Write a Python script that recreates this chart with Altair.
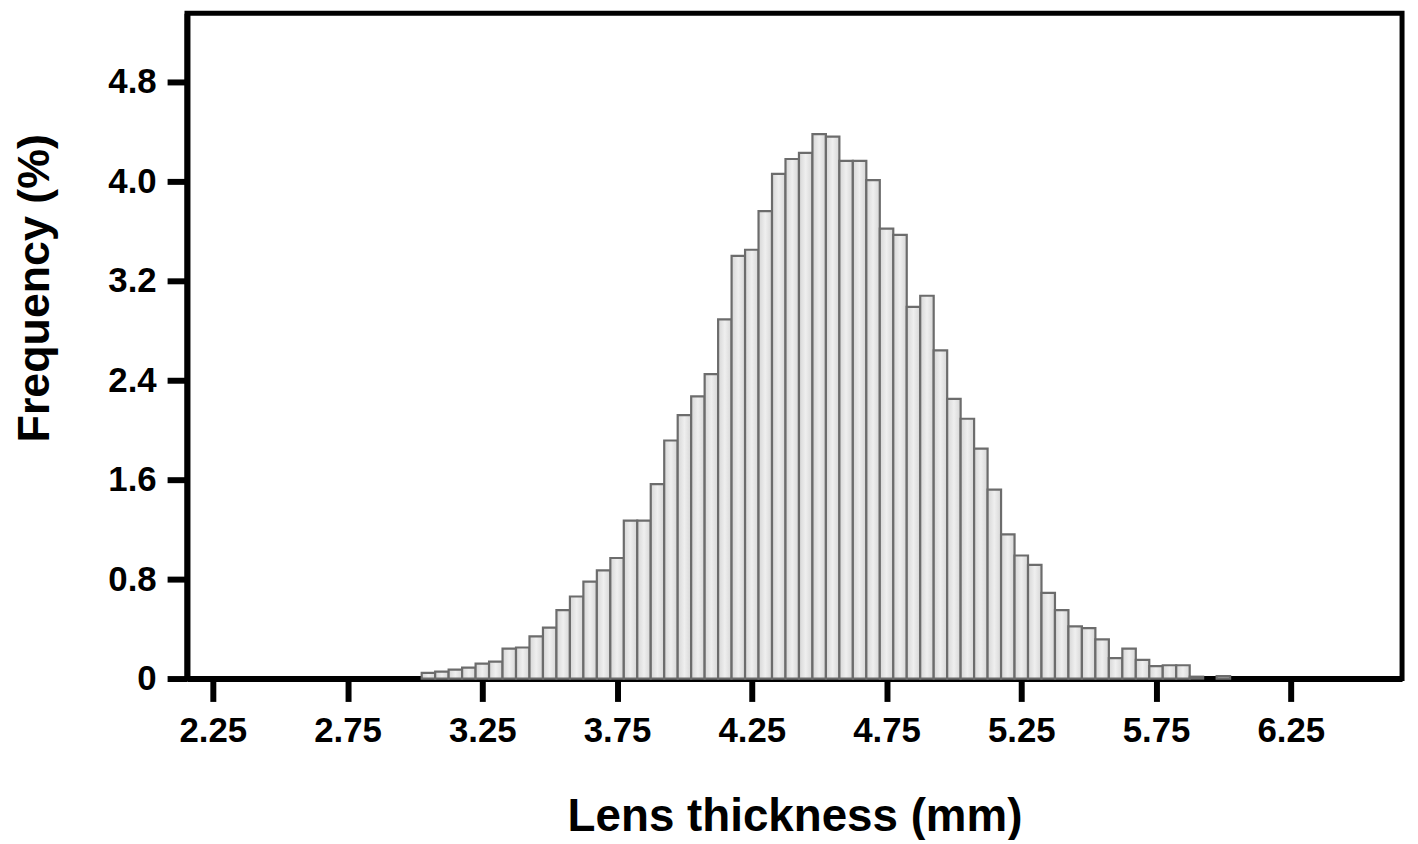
import altair as alt
import pandas as pd

# Bin centres (mm) and frequencies (%)
centers = [3.05, 3.10, 3.15, 3.20, 3.25, 3.30, 3.35, 3.40, 3.45, 3.50,
           3.55, 3.60, 3.65, 3.70, 3.75, 3.80, 3.85, 3.90, 3.95, 4.00,
           4.05, 4.10, 4.15, 4.20, 4.25, 4.30, 4.35, 4.40, 4.45, 4.50,
           4.55, 4.60, 4.65, 4.70, 4.75, 4.80, 4.85, 4.90, 4.95, 5.00,
           5.05, 5.10, 5.15, 5.20, 5.25, 5.30, 5.35, 5.40, 5.45, 5.50,
           5.55, 5.60, 5.65, 5.70, 5.75, 5.80, 5.85, 5.90, 6.00]
freqs = [0.046, 0.056, 0.072, 0.088, 0.12, 0.136, 0.24, 0.25, 0.34, 0.41,
         0.55, 0.66, 0.78, 0.87, 0.97, 1.27, 1.27, 1.565, 1.915, 2.12,
         2.27, 2.45, 2.89, 3.40, 3.45, 3.76, 4.06, 4.18, 4.23, 4.38,
         4.36, 4.165, 4.165, 4.01, 3.62, 3.57, 2.99, 3.08, 2.64, 2.25,
         2.09, 1.85, 1.52, 1.16, 0.99, 0.915, 0.69, 0.55, 0.42, 0.405,
         0.315, 0.165, 0.24, 0.15, 0.10, 0.107, 0.107, 0.015, 0.02]
bin_width = 0.05

x_ticks = [2.25, 2.75, 3.25, 3.75, 4.25, 4.75, 5.25, 5.75, 6.25]
y_ticks = [0, 0.8, 1.6, 2.4, 3.2, 4.0, 4.8]

df = pd.DataFrame({"center": centers, "freq": freqs})

FONT = "Liberation Sans"

fill = alt.LinearGradient(
    gradient="linear", x1=0, y1=0, x2=1, y2=0,
    stops=[alt.GradientStop(offset=0, color="#d6d6d6"),
           alt.GradientStop(offset=0.5, color="#efefef"),
           alt.GradientStop(offset=1, color="#d6d6d6")],
)

bars = alt.Chart(df).transform_calculate(
    lo=f"datum.center - {bin_width / 2}",
    hi=f"datum.center + {bin_width / 2}",
).mark_rect(fill=fill, stroke="#6c6c6c", strokeWidth=2.2).encode(
    x=alt.X("lo:Q",
            scale=alt.Scale(domain=[2.154, 6.663], nice=False, zero=False),
            axis=alt.Axis(values=x_ticks, format=".2f",
                          title="Lens thickness (mm)",
                          titleFontSize=46,
                          titleY=153, titleBaseline="alphabetic",
                          labelPadding=12, tickSize=23)),
    x2="hi:Q",
    y=alt.Y("freq:Q",
            scale=alt.Scale(domain=[0, 5.352], nice=False),
            axis=alt.Axis(values=y_ticks,
                          labelExpr="datum.value == 0 ? '0' : format(datum.value, '.1f')",
                          title="Frequency (%)",
                          titleFontSize=45,
                          titleAngle=270, titleX=-139, titleY=276,
                          titleAlign="center", titleBaseline="alphabetic",
                          labelPadding=11, tickSize=20)),
    y2=alt.datum(0),
)

chart = bars.properties(
    width=1222,
    height=669,
    autosize=alt.AutoSizeParams(type="none"),
    padding={"left": 180, "top": 3, "right": 8, "bottom": 160},
).configure_view(
    stroke="black", strokeWidth=5,
).configure_axis(
    grid=False,
    domainColor="black", domainWidth=6,
    tickColor="black", tickWidth=6,
    labelFont=FONT, labelFontWeight="bold", labelFontSize=35, labelColor="black",
    titleFont=FONT, titleFontWeight="bold", titleFontSize=44, titleColor="black",
).configure_axisY(
    labelAlign="right", labelBaseline="middle",
)

chart.save("out.html", embed_options={"renderer": "svg", "actions": False})
